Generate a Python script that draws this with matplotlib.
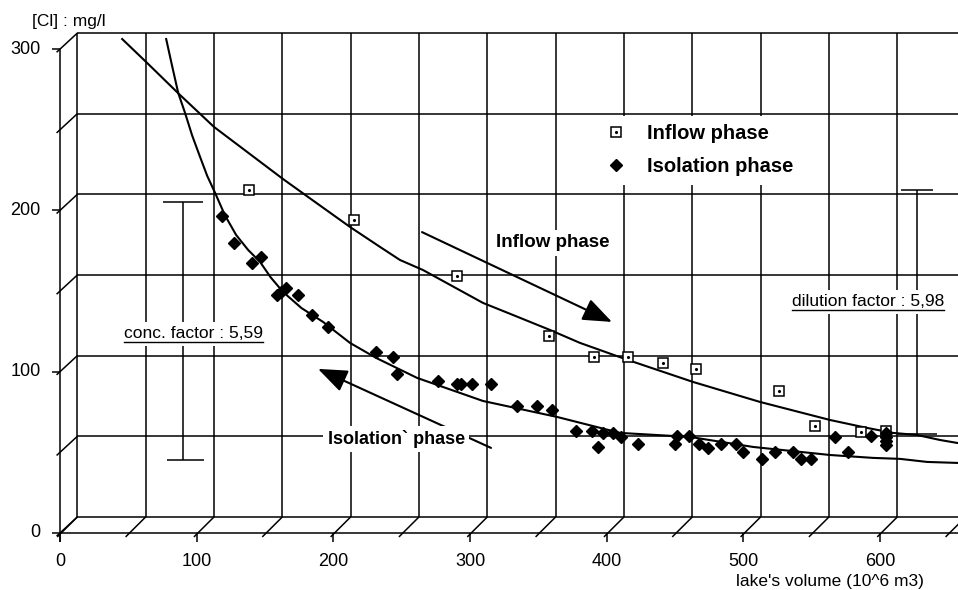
import matplotlib
matplotlib.use('Agg')
import matplotlib.pyplot as plt

plt.rcParams['font.family'] = ['Liberation Sans', 'DejaVu Sans']

# inflow phase samples : lake volume (10^6 m3), [Cl] mg/l
inflow_vol = [125.6, 202.4, 277.8, 345.1, 378.1, 403.0, 428.6, 452.7, 513.5, 539.8, 573.5, 591.7]
inflow_cl = [202.7, 184.1, 149.4, 112.2, 99.2, 99.2, 95.5, 91.8, 78.1, 56.4, 52.7, 53.3]

# isolation phase samples
iso_vol = [106.0, 114.7, 127.8, 134.4, 146.1, 149.0, 152.7, 161.5, 171.7, 183.4,
           218.6, 231.0, 233.9, 263.9, 277.8, 280.7, 288.8, 302.7, 321.7, 336.3,
           347.3, 364.9, 376.6, 381.0, 384.6, 392.0, 397.8, 410.3, 437.3, 438.8,
           447.6, 454.9, 461.5, 471.0, 482.0, 487.1, 501.0, 510.5, 523.7, 529.5,
           536.9, 554.4, 563.9, 580.8, 591.7, 591.7, 591.7, 591.7]
iso_cl = [186.6, 169.9, 157.5, 161.2, 137.6, 139.5, 142.0, 137.6, 125.2, 117.8,
          102.3, 99.2, 88.7, 84.3, 82.5, 82.5, 82.5, 82.5, 68.8, 68.8,
          66.3, 53.3, 53.3, 43.4, 52.1, 52.1, 49.6, 45.3, 45.3, 50.2,
          50.2, 45.3, 42.8, 45.3, 45.3, 40.3, 36.0, 40.3, 40.3, 36.0,
          36.0, 49.6, 40.3, 50.2, 52.1, 49.6, 47.1, 44.6]

# fitted curves
inflow_fit_vol = [32.8, 50.3, 74.4, 100.0, 150.5, 173.9, 199.5, 221.5, 236.1, 252.9, 296.8,
                  318.8, 345.9, 367.8, 402.9, 450.5, 499.5, 550.8, 577.8, 596.9, 614.5, 631.3, 643.7]
inflow_fit_cl = [296.3, 282.1, 262.2, 241.8, 209.5, 195.3, 179.8, 167.4, 159.3, 153.1, 132.7,
                 125.2, 115.9, 107.9, 97.3, 83.7, 71.3, 60.1, 55.2, 52.1, 50.8, 47.7, 45.9]
iso_fit_vol = [65.0, 69.5, 73.8, 78.8, 84.0, 89.8, 95.0, 100.8, 108.0, 116.2, 125.0, 133.7,
               141.5, 150.5, 164.0, 179.8, 199.5, 218.6, 248.6, 296.8, 351.0, 397.1,
               448.3, 494.4, 550.8, 582.3, 602.0, 621.8, 643.7]
iso_fit_cl = [296.3, 279.0, 262.9, 250.5, 236.5, 223.2, 211.5, 200.9, 187.0, 174.8, 165.5, 158.1,
              148.5, 139.5, 129.5, 120.9, 107.9, 98.6, 86.2, 71.9, 62.0, 52.1,
              49.6, 43.4, 38.4, 36.6, 36.0, 34.1, 33.5]

x_ticks = [0, 100, 200, 300, 400, 500, 600]
y_ticks = [0, 100, 200, 300]

# depth offset of the front axes (pseudo 3d frame)
DX, DY = -12.7, -9.9

fig = plt.figure(figsize=(9.58, 5.90), dpi=100)
ax = fig.add_axes([0, 0, 1, 1])
ax.set_xlim(-56.6, 644.4)
ax.set_ylim(-45.3, 320.5)
ax.axis('off')

kw = dict(color='black', lw=1.1, solid_capstyle='butt')

# back wall
for y in range(0, 301, 50):
    ax.plot([0, 700], [y, y], **kw)
for x in range(0, 601, 50):
    ax.plot([x, x], [0, 300], **kw)

# front axes + floor / side diagonals
ax.plot([DX, DX], [DY - 5.5, 300 + DY], **kw)
ax.plot([DX, 700], [DY, DY], **kw)
for y in range(0, 301, 50):
    ax.plot([DX - 2.5, 0], [y + DY - 2.0, y], **kw)
for y in y_ticks:
    ax.plot([DX - 6, DX], [y + DY, y + DY], **kw)
    ax.text(DX - 14, y + DY, str(y), ha='right', va='center', fontsize=13)
for x in range(0, 651, 50):
    ax.plot([x + DX - 2.0, x], [DY - 2.5, 0], **kw)
for x in x_ticks:
    ax.plot([x + DX, x + DX], [DY, DY - 5.5], **kw)
    ax.text(x + DX, -27.9, str(x), ha='center', va='center', fontsize=13)

ax.text(550.7, -40.3, "lake's volume (10^6 m3)", ha='center', va='center', fontsize=12.5)
ax.text(-33, 306.9, '[Cl] : mg/l', ha='left', va='center', fontsize=12.5,
        bbox=dict(facecolor='white', edgecolor='none', pad=2), zorder=5)

# fitted curves
ax.plot(inflow_fit_vol, inflow_fit_cl, color='black', lw=1.5, zorder=3)
ax.plot(iso_fit_vol, iso_fit_cl, color='black', lw=1.5, zorder=3)

# data points
sq, = ax.plot(inflow_vol, inflow_cl, 's', ms=6.5, mfc='white', mec='black', mew=1.1,
              ls='none', zorder=4)
dot, = ax.plot(inflow_vol, inflow_cl, '.', ms=2.5, color='black', ls='none', zorder=4)
dia, = ax.plot(iso_vol, iso_cl, 'D', ms=6.5, color='black', ls='none', zorder=4)

leg = ax.legend([(sq, dot), dia], ['Inflow phase', 'Isolation phase'],
                loc='center left', bbox_to_anchor=(0.614, 0.745),
                prop=dict(size=14.5, weight='bold'), frameon=True, fancybox=False,
                facecolor='white', edgecolor='none', framealpha=1,
                handlelength=1.0, handletextpad=1.0, labelspacing=0.7, borderpad=0.4)
leg.set_zorder(6)

# scale bars
ax.plot([77.3, 77.3], [35.3, 195.3], **kw)
ax.plot([62.7, 92.0], [195.3, 195.3], **kw)
ax.plot([65.6, 92.7], [35.3, 35.3], **kw)
ax.plot([614.4, 614.4], [51.5, 202.7], **kw)
ax.plot([603, 626], [202.7, 202.7], **kw)
ax.plot([600, 629], [51.5, 51.5], **kw)

# arrows
arrow = dict(arrowstyle='-|>,head_length=0.9,head_width=0.35', color='black', lw=1.5,
             mutation_scale=20, shrinkA=0, shrinkB=0)
ax.annotate('', xy=(391.2, 120.9), xytext=(252.2, 176.6), arrowprops=arrow, zorder=4)
ax.annotate('', xy=(176.1, 91.8), xytext=(302.7, 42.8), arrowprops=arrow, zorder=4)

box = dict(facecolor='white', edgecolor='none', pad=3)
ax.text(348.1, 169.9, 'Inflow phase', ha='center', va='center', fontsize=13.5,
        fontweight='bold', bbox=box, zorder=6)
ax.text(233.3, 48.4, 'Isolation` phase', ha='center', va='center', fontsize=13,
        fontweight='bold', bbox=box, zorder=6)

t1 = ax.text(34.2, 113.5, 'conc. factor : 5,59', ha='left', va='center', fontsize=12.5,
             bbox=box, zorder=6)
t2 = ax.text(522.9, 133.3, 'dilution factor : 5,98', ha='left', va='center', fontsize=12.5,
             bbox=box, zorder=6)

# underline the two factor labels
fig.canvas.draw()
inv = ax.transData.inverted()
for t in (t1, t2):
    bb = t.get_window_extent()
    (x0, y0), (x1, _) = inv.transform([(bb.x0, bb.y0 - 1), (bb.x1, bb.y0)])
    ax.plot([x0, x1], [y0, y0], color='black', lw=1.0, zorder=7)

fig.savefig('out.png', dpi=100)
